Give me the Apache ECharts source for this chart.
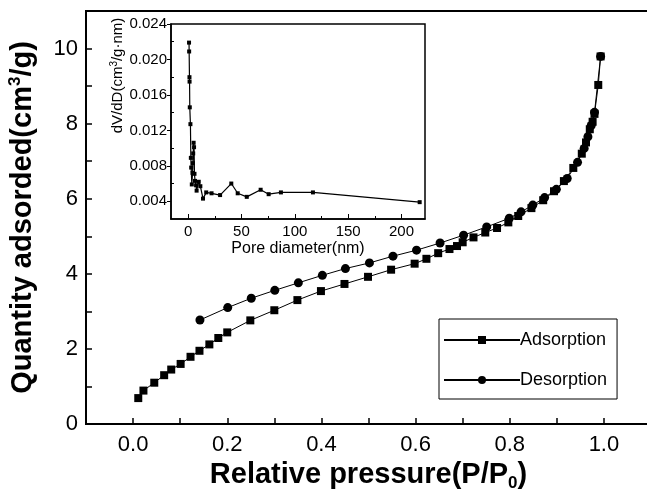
<!DOCTYPE html>
<html><head><meta charset="utf-8">
<script src="https://cdn.jsdelivr.net/npm/echarts@6/dist/echarts.min.js"></script>
<style>html,body{margin:0;padding:0;background:#fff}#c{width:647px;height:495px}</style>
</head><body><div id="c"></div>
<script>
// Main isotherm: adsorption branch
const adsorptionP = [0.011,0.022,0.045,0.066,0.081,0.101,0.122,0.141,0.162,0.181,0.200,0.249,0.300,0.349,0.399,0.449,0.499,0.548,0.598,0.623,0.648,0.672,0.688,0.700,0.723,0.748,0.773,0.797,0.818,0.846,0.871,0.894,0.915,0.935,0.953,0.962,0.970,0.976,0.980,0.988,0.993];
const adsorptionQ = [0.69,0.89,1.10,1.30,1.45,1.60,1.79,1.95,2.12,2.29,2.44,2.76,3.03,3.30,3.54,3.73,3.92,4.11,4.27,4.40,4.55,4.66,4.74,4.84,4.97,5.10,5.22,5.37,5.54,5.75,5.96,6.20,6.47,6.82,7.20,7.50,7.85,8.05,8.26,9.03,9.79];
// Desorption branch
const desorptionP = [0.993,0.980,0.973,0.966,0.958,0.944,0.922,0.899,0.874,0.849,0.824,0.799,0.751,0.702,0.652,0.602,0.552,0.502,0.451,0.402,0.351,0.301,0.251,0.201,0.142];
const desorptionQ = [9.79,8.30,7.95,7.65,7.34,6.97,6.54,6.25,6.03,5.83,5.65,5.48,5.25,5.03,4.82,4.63,4.47,4.29,4.14,3.96,3.76,3.56,3.35,3.10,2.77];
// Inset: pore size distribution
const poreDiameter = [0.9,1.0,1.3,1.4,1.6,2.2,2.6,2.9,3.5,4.2,4.5,4.8,5.2,5.6,6.0,6.5,7.5,8.0,10.0,11.5,14,17,22,30,40.5,46.5,55,68,75.5,87,117,217];
const poreDV = [0.0219,0.0209,0.0180,0.0175,0.0146,0.0127,0.0089,0.0078,0.0059,0.0072,0.0083,0.0094,0.0106,0.0101,0.0071,0.0063,0.0058,0.0052,0.0062,0.0057,0.0043,0.0050,0.0049,0.0047,0.0060,0.0049,0.0045,0.0053,0.0048,0.0050,0.0050,0.0039];
const seriesNames = ['Adsorption','Desorption'];
// Inset tick values
const insetXMajor = [0, 50, 100, 150, 200];
const insetXMinor = [25, 75, 125, 175];
const insetYMajor = [0.004, 0.008, 0.012, 0.016, 0.020, 0.024];
const insetYMinor = [0.006, 0.010, 0.014, 0.018, 0.022];

const FONT = "'Liberation Sans', Arial, sans-serif";
const zip = (a, b) => a.map((v, i) => [v, b[i]]);

const chart = echarts.init(document.getElementById('c'), null, {renderer: 'canvas'});
chart.setOption({
  animation: false,
  backgroundColor: '#fff',
  textStyle: {fontFamily: FONT, color: '#000'},
  grid: [
    {left: 86, right: -4, top: 11, bottom: 71, show: true, borderColor: '#000', borderWidth: 2, backgroundColor: 'transparent', containLabel: false, outerBoundsMode: 'none'},
    {left: 171, right: 222, top: 24, bottom: 276, show: true, borderColor: '#000', borderWidth: 1.5, backgroundColor: '#fff', containLabel: false, outerBoundsMode: 'none'}
  ],
  xAxis: [
    {
      type: 'value', gridIndex: 0, min: -0.1, max: 1.1, interval: 0.1,
      splitLine: {show: false},
      axisLine: {show: true, onZero: false, lineStyle: {color: '#000', width: 2}},
      axisTick: {show: true, inside: true, length: 6, lineStyle: {color: '#000', width: 1.5}},
      axisLabel: {
        fontSize: 22, color: '#000', fontFamily: FONT, margin: 10,
        formatter: v => (Math.round(v * 10) % 2 === 0 && v >= 0 && v <= 1.0001) ? v.toFixed(1) : ''
      },
      name: '{b|Relative pressure(P/P}{sub|0}{b|)}',
      nameLocation: 'middle', nameGap: 35,
      nameTextStyle: {
        rich: {
          b: {fontSize: 29, fontWeight: 'bold', fontFamily: FONT, color: '#000', lineHeight: 32},
          sub: {fontSize: 17, fontWeight: 'bold', fontFamily: FONT, color: '#000', verticalAlign: 'bottom', lineHeight: 32, padding: [11, 0, 0, 0]}
        }
      }
    },
    {
      type: 'value', gridIndex: 1, position: 'bottom', min: -16, max: 222,
      splitLine: {show: false},
      axisLine: {show: true, onZero: false, lineStyle: {color: '#000', width: 1.5}},
      axisTick: {show: true, inside: true, length: 5, customValues: insetXMajor, lineStyle: {color: '#000', width: 1}},
      axisLabel: {fontSize: 15, color: '#000', fontFamily: FONT, margin: 5, customValues: insetXMajor},
      name: 'Pore diameter(nm)', nameLocation: 'middle', nameGap: 22,
      nameTextStyle: {fontSize: 16, color: '#000', fontFamily: FONT}
    },
    {
      type: 'value', gridIndex: 1, position: 'bottom', min: -16, max: 222,
      splitLine: {show: false},
      axisLine: {show: false, onZero: false},
      axisTick: {show: true, inside: true, length: 3, customValues: insetXMinor, lineStyle: {color: '#000', width: 1}},
      axisLabel: {show: false}
    }
  ],
  yAxis: [
    {
      type: 'value', gridIndex: 0, min: 0, max: 11, interval: 2,
      splitLine: {show: false},
      axisLine: {show: true, onZero: false, lineStyle: {color: '#000', width: 2}},
      axisTick: {show: true, inside: true, length: 6, lineStyle: {color: '#000', width: 1.5}},
      minorTick: {show: true, splitNumber: 2, length: 6, lineStyle: {color: '#000', width: 1.5}},
      axisLabel: {fontSize: 22, color: '#000', fontFamily: FONT, margin: 8, showMaxLabel: false},
      name: '{b|Quantity adsorded(cm}{sup|3}{b|/g)}',
      nameLocation: 'middle', nameGap: 47, nameRotate: 90,
      nameTextStyle: {
        rich: {
          b: {fontSize: 29, fontWeight: 'bold', fontFamily: FONT, color: '#000', lineHeight: 32},
          sup: {fontSize: 17, fontWeight: 'bold', fontFamily: FONT, color: '#000', verticalAlign: 'top', lineHeight: 32, padding: [0, 0, 11, 0]}
        }
      }
    },
    {
      type: 'value', gridIndex: 1, position: 'left', min: 0.002, max: 0.024,
      splitLine: {show: false},
      axisLine: {show: true, onZero: false, lineStyle: {color: '#000', width: 1.5}},
      axisTick: {show: true, inside: false, length: 4, customValues: insetYMajor, lineStyle: {color: '#000', width: 1}},
      axisLabel: {fontSize: 15, color: '#000', fontFamily: FONT, margin: 4, customValues: insetYMajor, formatter: v => v.toFixed(3)},
      name: '{t|dV/dD(cm}{sup|3}{t|/g·nm)}',
      nameLocation: 'middle', nameGap: 44, nameRotate: 90,
      nameTextStyle: {
        padding: [0, 0, 0, 92],
        rich: {
          t: {fontSize: 15, fontFamily: FONT, color: '#000', lineHeight: 18},
          sup: {fontSize: 10, fontFamily: FONT, color: '#000', verticalAlign: 'top', lineHeight: 18, padding: [0, 0, 6, 0]}
        }
      }
    },
    {
      type: 'value', gridIndex: 1, position: 'left', min: 0.002, max: 0.024,
      splitLine: {show: false},
      axisLine: {show: false, onZero: false},
      axisTick: {show: true, inside: true, length: 3, customValues: insetYMinor, lineStyle: {color: '#000', width: 1}},
      axisLabel: {show: false}
    }
  ],
  legend: {
    orient: 'vertical', left: 439, top: 319,
    data: seriesNames,
    itemWidth: 76, itemHeight: 10, itemGap: 22,
    textStyle: {fontSize: 18, color: '#000', fontFamily: FONT, padding: [0, 0, 0, -5]},
    borderColor: '#000', borderWidth: 1, padding: [12, 10, 10, 4],
    backgroundColor: '#fff'
  },
  series: [
    {
      name: seriesNames[0], type: 'line', xAxisIndex: 0, yAxisIndex: 0,
      data: zip(adsorptionP, adsorptionQ),
      symbol: 'rect', symbolSize: 8, showAllSymbol: true,
      lineStyle: {color: '#000', width: 1}, itemStyle: {color: '#000'}, z: 3
    },
    {
      name: seriesNames[1], type: 'line', xAxisIndex: 0, yAxisIndex: 0,
      data: zip(desorptionP, desorptionQ),
      symbol: 'circle', symbolSize: 9, showAllSymbol: true,
      lineStyle: {color: '#000', width: 1}, itemStyle: {color: '#000'}, z: 4
    },
    {
      name: 'PSD', type: 'line', xAxisIndex: 1, yAxisIndex: 1,
      data: zip(poreDiameter, poreDV),
      symbol: 'rect', symbolSize: 4, showAllSymbol: true,
      lineStyle: {color: '#000', width: 1.2}, itemStyle: {color: '#000'}, z: 5
    }
  ]
});
</script>
</body></html>
